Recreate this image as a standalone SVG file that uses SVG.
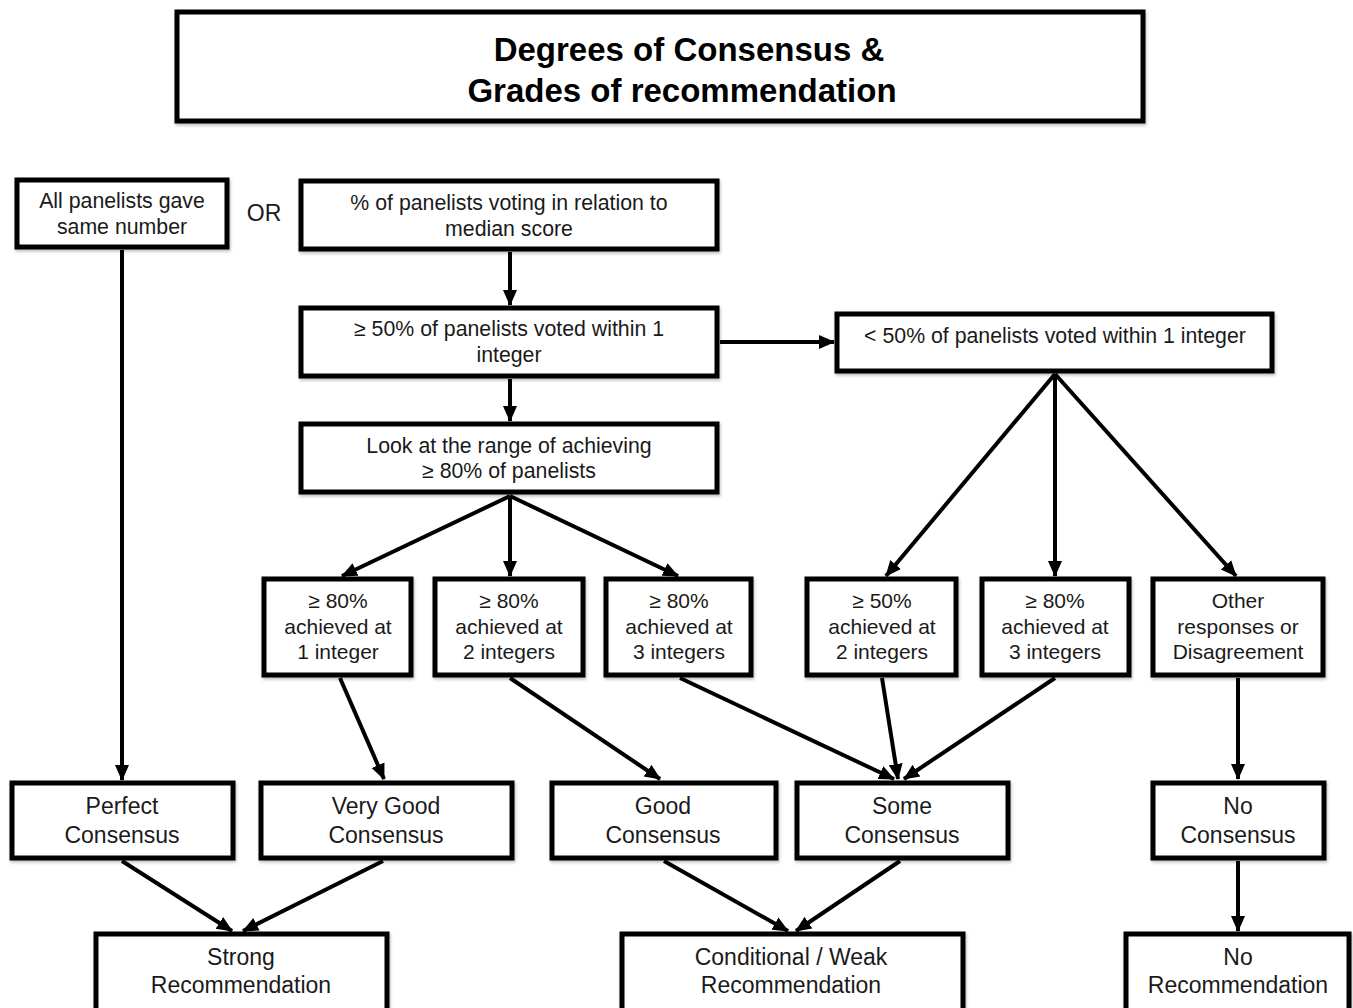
<svg xmlns="http://www.w3.org/2000/svg" width="1353" height="1008" viewBox="0 0 1353 1008">
<style>
.box{fill:#fff;stroke:#000;stroke-width:5;filter:url(#sh)}
.t{font-family:"Liberation Sans",Arial,sans-serif;fill:#1a1a1a;text-anchor:middle}
.s{font-size:21.3px}
.m{font-size:21px}
.l{font-size:23px}
.title{font-size:33px;font-weight:bold;fill:#000}
.c{stroke:#000;stroke-width:4;fill:none;marker-end:url(#ah)}
</style>
<defs>
<filter id="sh" x="-10%" y="-10%" width="120%" height="130%">
<feDropShadow dx="1" dy="2" stdDeviation="1.5" flood-color="#000" flood-opacity="0.25"/>
</filter>
<marker id="ah" markerUnits="userSpaceOnUse" markerWidth="16" markerHeight="16" viewBox="0 0 16 16" refX="15" refY="8" orient="auto">
<path d="M0,1 L16,8 L0,15 Z" fill="#000"/>
</marker>
</defs>
<rect width="1353" height="1008" fill="#fff"/>

<g id="connectors">
<line class="c" x1="122" y1="250" x2="122" y2="780"/>
<line class="c" x1="510" y1="252" x2="510" y2="305"/>
<line class="c" x1="720" y1="342" x2="834" y2="342"/>
<line class="c" x1="510" y1="379" x2="510" y2="421"/>
<line class="c" x1="510" y1="496" x2="342" y2="576"/>
<line class="c" x1="510" y1="496" x2="510" y2="576"/>
<line class="c" x1="510" y1="496" x2="678" y2="576"/>
<line class="c" x1="1055" y1="374" x2="886" y2="576"/>
<line class="c" x1="1055" y1="374" x2="1055" y2="576"/>
<line class="c" x1="1055" y1="374" x2="1236" y2="576"/>
<line class="c" x1="340" y1="678" x2="384" y2="779"/>
<line class="c" x1="510" y1="678" x2="660" y2="779"/>
<line class="c" x1="680" y1="678" x2="894" y2="779"/>
<line class="c" x1="882" y1="678" x2="898" y2="779"/>
<line class="c" x1="1055" y1="678" x2="904" y2="779"/>
<line class="c" x1="1238" y1="678" x2="1238" y2="779"/>
<line class="c" x1="122" y1="861" x2="232" y2="931"/>
<line class="c" x1="383" y1="861" x2="243" y2="931"/>
<line class="c" x1="664" y1="861" x2="788" y2="931"/>
<line class="c" x1="900" y1="861" x2="796" y2="931"/>
<line class="c" x1="1238" y1="861" x2="1238" y2="931"/>
</g>

<g id="title">
<rect class="box" x="177" y="12" width="966" height="109"/>
<text class="t title" x="689" y="61">Degrees of Consensus &amp;</text>
<text class="t title" x="682" y="102">Grades of recommendation</text>
</g>

<g id="n-all">
<rect class="box" x="17" y="180" width="210" height="67"/>
<text class="t s" x="122" y="208">All panelists gave</text>
<text class="t s" x="122" y="234">same number</text>
</g>

<text class="t" x="264" y="221" font-size="23">OR</text>

<g id="n-pct">
<rect class="box" x="301" y="181" width="416" height="68"/>
<text class="t s" x="509" y="210">% of panelists voting in relation to</text>
<text class="t s" x="509" y="236">median score</text>
</g>

<g id="n-ge50">
<rect class="box" x="301" y="308" width="416" height="68"/>
<text class="t s" x="509" y="336">≥ 50% of panelists voted within 1</text>
<text class="t s" x="509" y="362">integer</text>
</g>

<g id="n-lt50">
<rect class="box" x="837" y="314" width="435" height="57"/>
<text class="t s" x="1055" y="343">&lt; 50% of panelists voted within 1 integer</text>
</g>

<g id="n-look">
<rect class="box" x="301" y="424" width="416" height="68"/>
<text class="t s" x="509" y="453">Look at the range of achieving</text>
<text class="t s" x="509" y="478">≥ 80% of panelists</text>
</g>

<g id="n-a1">
<rect class="box" x="264" y="579" width="147" height="96"/>
<text class="t m" x="338" y="608">≥ 80%</text>
<text class="t m" x="338" y="634">achieved at</text>
<text class="t m" x="338" y="659">1 integer</text>
</g>

<g id="n-a2">
<rect class="box" x="435" y="579" width="148" height="96"/>
<text class="t m" x="509" y="608">≥ 80%</text>
<text class="t m" x="509" y="634">achieved at</text>
<text class="t m" x="509" y="659">2 integers</text>
</g>

<g id="n-a3">
<rect class="box" x="606" y="579" width="145" height="96"/>
<text class="t m" x="679" y="608">≥ 80%</text>
<text class="t m" x="679" y="634">achieved at</text>
<text class="t m" x="679" y="659">3 integers</text>
</g>

<g id="n-b2">
<rect class="box" x="807" y="579" width="149" height="96"/>
<text class="t m" x="882" y="608">≥ 50%</text>
<text class="t m" x="882" y="634">achieved at</text>
<text class="t m" x="882" y="659">2 integers</text>
</g>

<g id="n-b3">
<rect class="box" x="982" y="579" width="147" height="96"/>
<text class="t m" x="1055" y="608">≥ 80%</text>
<text class="t m" x="1055" y="634">achieved at</text>
<text class="t m" x="1055" y="659">3 integers</text>
</g>

<g id="n-other">
<rect class="box" x="1153" y="579" width="170" height="96"/>
<text class="t m" x="1238" y="608">Other</text>
<text class="t m" x="1238" y="634">responses or</text>
<text class="t m" x="1238" y="659">Disagreement</text>
</g>

<g id="n-perfect">
<rect class="box" x="12" y="783" width="221" height="75"/>
<text class="t l" x="122" y="814">Perfect</text>
<text class="t l" x="122" y="843">Consensus</text>
</g>

<g id="n-verygood">
<rect class="box" x="261" y="783" width="251" height="75"/>
<text class="t l" x="386" y="814">Very Good</text>
<text class="t l" x="386" y="843">Consensus</text>
</g>

<g id="n-good">
<rect class="box" x="552" y="783" width="224" height="75"/>
<text class="t l" x="663" y="814">Good</text>
<text class="t l" x="663" y="843">Consensus</text>
</g>

<g id="n-some">
<rect class="box" x="797" y="783" width="211" height="75"/>
<text class="t l" x="902" y="814">Some</text>
<text class="t l" x="902" y="843">Consensus</text>
</g>

<g id="n-nocons">
<rect class="box" x="1153" y="783" width="171" height="75"/>
<text class="t l" x="1238" y="814">No</text>
<text class="t l" x="1238" y="843">Consensus</text>
</g>

<g id="n-strong">
<rect class="box" x="96" y="934" width="291" height="80"/>
<text class="t l" x="241" y="965">Strong</text>
<text class="t l" x="241" y="993">Recommendation</text>
</g>

<g id="n-weak">
<rect class="box" x="622" y="934" width="341" height="80"/>
<text class="t l" x="791" y="965">Conditional / Weak</text>
<text class="t l" x="791" y="993">Recommendation</text>
</g>

<g id="n-norec">
<rect class="box" x="1126" y="934" width="223" height="80"/>
<text class="t l" x="1238" y="965">No</text>
<text class="t l" x="1238" y="993">Recommendation</text>
</g>
</svg>
